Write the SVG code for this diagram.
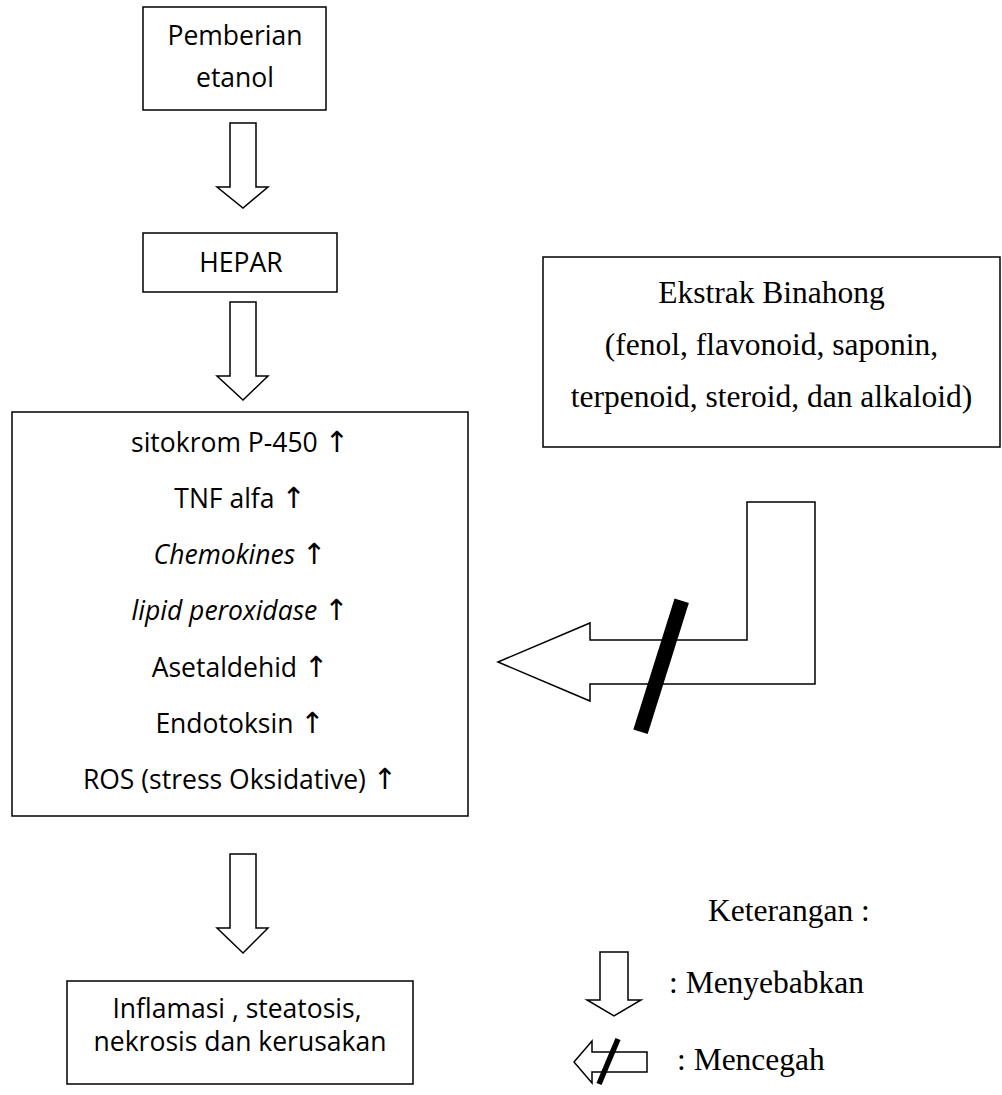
<svg xmlns="http://www.w3.org/2000/svg" width="1002" height="1095" viewBox="0 0 1002 1095">
<style>
.box{fill:#fff;stroke:#000;stroke-width:1.5}
.arr{fill:#fff;stroke:#000;stroke-width:1.5;stroke-linejoin:miter}
.sans{font-family:"Open Sans","Noto Sans","DejaVu Sans",sans-serif;font-size:26.5px;fill:#000;text-anchor:middle}
.serif{font-family:"Liberation Serif","Times New Roman",serif;font-size:31.5px;fill:#000}
.up{font-family:"DejaVu Sans",sans-serif;font-style:normal;font-size:29px}
.it{font-style:italic}
.slash{stroke:#000;stroke-linecap:butt}
</style>
<rect width="1002" height="1095" fill="#fff"/>
<g id="node-pemberian">
<rect class="box" x="143" y="7" width="183" height="103"/>
<text class="sans" x="235" y="45">Pemberian</text>
<text class="sans" x="235" y="87">etanol</text>
</g>
<g id="node-hepar">
<rect class="box" x="143" y="233" width="194" height="59"/>
<text class="sans" x="241" y="272">HEPAR</text>
</g>
<g id="node-efek">
<rect class="box" x="12" y="412" width="456" height="404"/>
<text class="sans" x="240" y="452">sitokrom P-450 <tspan class="up">↑</tspan></text>
<text class="sans" x="240" y="508">TNF alfa <tspan class="up">↑</tspan></text>
<text class="sans" x="240" y="564"><tspan class="it">Chemokines</tspan> <tspan class="up">↑</tspan></text>
<text class="sans" x="240" y="620"><tspan class="it">lipid peroxidase</tspan> <tspan class="up">↑</tspan></text>
<text class="sans" x="240" y="677">Asetaldehid <tspan class="up">↑</tspan></text>
<text class="sans" x="240" y="733">Endotoksin <tspan class="up">↑</tspan></text>
<text class="sans" x="240" y="789">ROS (stress Oksidative) <tspan class="up">↑</tspan></text>
</g>
<g id="node-binahong">
<rect class="box" x="543" y="257" width="457" height="190"/>
<text class="serif" x="771.5" y="303" text-anchor="middle">Ekstrak Binahong</text>
<text class="serif" x="771.5" y="355" text-anchor="middle">(fenol, flavonoid, saponin,</text>
<text class="serif" x="771.5" y="407" text-anchor="middle">terpenoid, steroid, dan alkaloid)</text>
</g>
<g id="node-inflamasi">
<rect class="box" x="67" y="981" width="346" height="103"/>
<text class="sans" x="237" y="1018">Inflamasi , steatosis,</text>
<text class="sans" x="240" y="1051">nekrosis dan kerusakan</text>
</g>
<g id="connectors">
<polygon class="arr" points="230,123 256,123 256,187 268,187 243,208 217,187 230,187"/>
<polygon class="arr" points="230,302 256,302 256,376 268,376 243,400 217,376 230,376"/>
<polygon class="arr" points="230,854 256,854 256,928 268,928 243,953 217,928 230,928"/>
<polygon class="arr" points="498,662 590,623 590,640 747,640 747,502 815,502 815,684 590,684 590,701"/>
<line class="slash" x1="681.7" y1="600.7" x2="640.5" y2="731.8" stroke-width="15"/>
</g>
<g id="legend">
<text class="serif" x="708" y="921">Keterangan :</text>
<polygon class="arr" points="600,952 628,952 628,1000 641,1000 614,1016 587,1000 600,1000"/>
<text class="serif" x="669" y="993">: Menyebabkan</text>
<polygon class="arr" points="574,1062 592,1041 592,1052 647,1052 647,1072 592,1072 592,1083"/>
<line class="slash" x1="618" y1="1039" x2="599" y2="1084" stroke-width="5.5"/>
<text class="serif" x="677" y="1070">: Mencegah</text>
</g>
</svg>
